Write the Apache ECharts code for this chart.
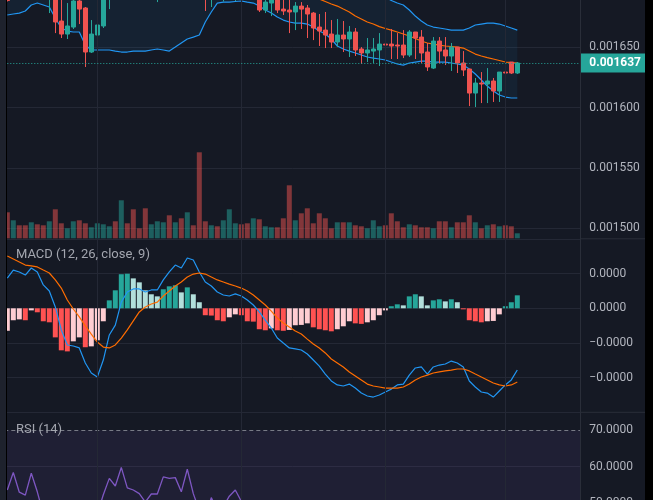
<!DOCTYPE html>
<html>
<head>
<meta charset="utf-8">
<script src="https://cdn.jsdelivr.net/npm/echarts@6/dist/echarts.min.js"></script>
<style>
html,body{margin:0;padding:0;background:#151924;}
#chart{width:653px;height:500px;}
</style>
</head>
<body>
<div id="chart"></div>
<script>
// ---- price candles (one entry per candle) ----
const opens = [0.0016975,0.0016909,0.0016991,0.0016942,0.0016917,0.0017008,0.0016958,0.0016917,0.0016975,0.0016718,
 0.0016610,0.0016668,0.0016884,0.0016826,0.0016461,0.0016602,0.0016677,0.0016933,0.0017041,0.0016991,
 0.0017182,0.0017124,0.0017025,0.0016991,0.0016925,0.0017008,0.0017074,0.0017157,0.0017091,0.0017207,
 0.0017141,0.0017273,0.0017207,0.0017025,0.0016958,0.0017008,0.0016942,0.0016991,0.0017025,0.0017074,
 0.0016991,0.0016925,0.0016958,0.0016809,0.0016867,0.0016909,0.0016817,0.0016809,0.0016793,0.0016842,
 0.0016826,0.0016784,0.0016668,0.0016643,0.0016610,0.0016544,0.0016602,0.0016569,0.0016627,0.0016486,
 0.0016453,0.0016469,0.0016478,0.0016527,0.0016527,0.0016519,0.0016519,0.0016436,0.0016627,0.0016585,
 0.0016461,0.0016328,0.0016552,0.0016478,0.0016428,0.0016502,0.0016370,0.0016320,0.0016121,0.0016204,
 0.0016196,0.0016221,0.0016138,0.0016295,0.0016378,0.0016287];
const closes = [0.0016888,0.0016991,0.0016942,0.0016909,0.0017008,0.0016958,0.0016925,0.0016975,0.0016710,0.0016610,
 0.0016677,0.0016884,0.0016817,0.0016461,0.0016610,0.0016685,0.0016933,0.0017041,0.0016991,0.0017182,
 0.0017124,0.0017025,0.0016991,0.0016925,0.0017008,0.0017074,0.0017157,0.0017091,0.0017207,0.0017141,
 0.0017273,0.0017207,0.0017025,0.0016958,0.0017008,0.0016942,0.0016991,0.0017058,0.0017074,0.0016991,
 0.0016925,0.0016975,0.0016809,0.0016875,0.0016909,0.0016809,0.0016801,0.0016793,0.0016842,0.0016817,
 0.0016776,0.0016660,0.0016635,0.0016602,0.0016544,0.0016602,0.0016569,0.0016627,0.0016478,0.0016453,
 0.0016478,0.0016486,0.0016527,0.0016519,0.0016511,0.0016511,0.0016436,0.0016627,0.0016577,0.0016453,
 0.0016337,0.0016552,0.0016469,0.0016428,0.0016502,0.0016370,0.0016312,0.0016121,0.0016204,0.0016196,
 0.0016221,0.0016138,0.0016295,0.0016287,0.0016287,0.0016370];
const lows = [0.0016880,0.0016900,0.0016917,0.0016896,0.0016900,0.0016925,0.0016900,0.0016784,0.0016618,0.0016577,
 0.0016569,0.0016652,0.0016693,0.0016337,0.0016453,0.0016461,0.0016660,0.0016817,0.0016958,0.0016975,
 0.0017091,0.0016991,0.0016950,0.0016909,0.0016909,0.0016875,0.0017041,0.0017058,0.0017058,0.0017107,
 0.0017107,0.0017157,0.0016975,0.0016801,0.0016834,0.0016909,0.0016880,0.0016958,0.0016884,0.0016925,
 0.0016900,0.0016900,0.0016793,0.0016784,0.0016759,0.0016784,0.0016768,0.0016618,0.0016643,0.0016652,
 0.0016577,0.0016560,0.0016511,0.0016494,0.0016494,0.0016502,0.0016461,0.0016420,0.0016428,0.0016362,
 0.0016378,0.0016370,0.0016345,0.0016345,0.0016403,0.0016403,0.0016411,0.0016420,0.0016403,0.0016370,
 0.0016304,0.0016320,0.0016370,0.0016353,0.0016304,0.0016287,0.0016262,0.0016013,0.0016005,0.0016038,
 0.0016038,0.0016047,0.0016047,0.0016287,0.0016279,0.0016279];
const highs = [0.0017008,0.0017025,0.0017041,0.0016975,0.0017041,0.0017058,0.0016991,0.0017008,0.0017008,0.0016909,
 0.0016867,0.0016917,0.0016909,0.0016834,0.0016726,0.0016859,0.0016958,0.0017074,0.0017091,0.0017224,
 0.0017240,0.0017207,0.0017058,0.0017107,0.0017041,0.0017107,0.0017190,0.0017224,0.0017240,0.0017257,
 0.0017323,0.0017306,0.0017290,0.0017058,0.0017041,0.0017041,0.0017025,0.0017091,0.0017107,0.0017107,
 0.0017025,0.0017008,0.0016991,0.0016900,0.0016925,0.0016933,0.0016900,0.0016909,0.0016875,0.0016875,
 0.0016851,0.0016793,0.0016776,0.0016793,0.0016726,0.0016735,0.0016718,0.0016677,0.0016660,0.0016502,
 0.0016577,0.0016577,0.0016618,0.0016627,0.0016652,0.0016618,0.0016643,0.0016643,0.0016627,0.0016643,
 0.0016536,0.0016585,0.0016585,0.0016585,0.0016536,0.0016502,0.0016469,0.0016320,0.0016246,0.0016295,
 0.0016328,0.0016246,0.0016295,0.0016378,0.0016378,0.0016378];

// ---- Bollinger bands ----
const bbLower = [0.0016768,0.0016776,0.0016784,0.0016801,0.0016851,0.0016867,0.0016851,0.0016834,0.0016743,0.0016660,
 0.0016635,0.0016627,0.0016627,0.0016519,0.0016478,0.0016478,0.0016478,0.0016478,0.0016469,0.0016461,
 0.0016461,0.0016469,0.0016469,0.0016469,0.0016478,0.0016486,0.0016478,0.0016469,0.0016502,0.0016536,
 0.0016569,0.0016585,0.0016602,0.0016710,0.0016793,0.0016867,0.0016875,0.0016875,0.0016880,0.0016884,
 0.0016875,0.0016867,0.0016842,0.0016809,0.0016784,0.0016751,0.0016726,0.0016710,0.0016701,0.0016701,
 0.0016693,0.0016668,0.0016635,0.0016610,0.0016569,0.0016511,0.0016486,0.0016469,0.0016453,0.0016436,
 0.0016420,0.0016411,0.0016403,0.0016395,0.0016378,0.0016362,0.0016353,0.0016370,0.0016378,0.0016386,
 0.0016386,0.0016378,0.0016378,0.0016378,0.0016370,0.0016362,0.0016353,0.0016320,0.0016279,0.0016229,
 0.0016179,0.0016138,0.0016105,0.0016088,0.0016080,0.0016080];
const bbMid = [0.0017124,0.0017124,0.0017116,0.0017116,0.0017107,0.0017107,0.0017099,0.0017099,0.0017091,0.0017074,
 0.0017058,0.0017041,0.0017025,0.0017008,0.0016991,0.0016983,0.0016975,0.0016975,0.0016983,0.0016991,
 0.0017000,0.0017008,0.0017016,0.0017025,0.0017033,0.0017041,0.0017049,0.0017058,0.0017066,0.0017074,
 0.0017083,0.0017091,0.0017099,0.0017099,0.0017099,0.0017099,0.0017099,0.0017099,0.0017091,0.0017091,
 0.0017083,0.0017074,0.0017066,0.0017049,0.0017033,0.0017016,0.0017000,0.0016983,0.0016967,0.0016950,
 0.0016933,0.0016917,0.0016900,0.0016880,0.0016859,0.0016842,0.0016817,0.0016793,0.0016759,0.0016735,
 0.0016710,0.0016693,0.0016672,0.0016656,0.0016643,0.0016627,0.0016610,0.0016594,0.0016573,0.0016552,
 0.0016536,0.0016527,0.0016519,0.0016511,0.0016507,0.0016502,0.0016494,0.0016469,0.0016444,0.0016428,
 0.0016415,0.0016403,0.0016391,0.0016378,0.0016374,0.0016370];
const bbUpper = [0.0017480,0.0017472,0.0017447,0.0017431,0.0017364,0.0017348,0.0017348,0.0017364,0.0017439,0.0017489,
 0.0017480,0.0017456,0.0017422,0.0017497,0.0017505,0.0017489,0.0017472,0.0017472,0.0017497,0.0017522,
 0.0017538,0.0017547,0.0017563,0.0017580,0.0017588,0.0017596,0.0017621,0.0017646,0.0017630,0.0017613,
 0.0017596,0.0017596,0.0017596,0.0017489,0.0017406,0.0017331,0.0017323,0.0017323,0.0017319,0.0017298,
 0.0017306,0.0017298,0.0017290,0.0017290,0.0017282,0.0017282,0.0017273,0.0017257,0.0017232,0.0017199,
 0.0017174,0.0017165,0.0017165,0.0017149,0.0017149,0.0017174,0.0017149,0.0017116,0.0017066,0.0017033,
 0.0017000,0.0016975,0.0016942,0.0016917,0.0016888,0.0016867,0.0016851,0.0016809,0.0016759,0.0016718,
 0.0016685,0.0016668,0.0016660,0.0016652,0.0016643,0.0016643,0.0016643,0.0016660,0.0016685,0.0016693,
 0.0016701,0.0016701,0.0016693,0.0016677,0.0016660,0.0016643];

// ---- volume ----
const volume = [26,18,13,13,16,14,13,17,29,15, 10,17,18,15,11,15,14,12,17,38,
 15,29,10,30,14,17,16,23,16,20, 26,13,86,17,13,12,18,29,15,14,
 15,20,19,12,11,11,20,53,18,25, 30,15,25,20,10,16,16,16,13,12,
 10,18,12,13,25,17,11,14,13,11, 11,10,17,17,11,16,16,23,16,10,
 13,14,12,13,12,5];

// ---- MACD (values in units of 1e-6) ----
const MACD_UNIT = 1e-6;
const macdLine = [1.75,2.21,2.10,1.92,2.33,2.10,1.35,1.00,0.08,-1.25,
 -2.12,-2.18,-2.29,-3.16,-3.74,-3.97,-2.99,-1.54,-0.97,0.36,
 0.94,1.12,1.12,0.94,1.06,1.06,1.64,2.10,2.50,2.33,
 2.91,2.79,2.10,1.52,1.29,0.94,0.77,0.71,0.83,0.71,
 0.48,0.19,-0.21,-0.68,-1.14,-1.72,-2.01,-2.29,-2.35,-2.41,
 -2.64,-2.99,-3.34,-3.80,-4.20,-4.43,-4.49,-4.38,-4.61,-4.90,
 -5.07,-5.13,-5.01,-4.84,-4.67,-4.43,-4.38,-3.86,-3.45,-3.39,
 -3.80,-3.39,-3.28,-3.22,-3.05,-3.16,-3.39,-4.20,-4.55,-4.84,
 -4.90,-5.13,-4.78,-4.43,-4.14,-3.57];
const signalLine = [3.02,2.85,2.68,2.50,2.45,2.39,2.21,2.04,1.64,1.17,
 0.48,-0.04,-0.50,-1.02,-1.49,-1.95,-2.24,-2.29,-2.12,-1.72,
 -1.25,-0.73,-0.21,0.08,0.25,0.36,0.71,1.00,1.29,1.52,
 1.81,1.98,2.04,1.98,1.81,1.64,1.52,1.40,1.29,1.17,
 1.00,0.77,0.48,0.19,-0.16,-0.56,-0.85,-1.08,-1.31,-1.49,
 -1.78,-2.06,-2.29,-2.58,-2.93,-3.16,-3.39,-3.68,-3.91,-4.14,
 -4.38,-4.49,-4.55,-4.61,-4.61,-4.61,-4.55,-4.38,-4.14,-3.97,
 -3.86,-3.74,-3.68,-3.62,-3.57,-3.51,-3.51,-3.62,-3.80,-3.97,
 -4.14,-4.32,-4.43,-4.49,-4.43,-4.26];
const macdHist = [-1.30,-0.69,-0.64,-0.69,-0.12,-0.23,-0.75,-0.81,-1.68,-2.43,
 -2.49,-1.91,-1.68,-2.25,-2.20,-1.85,-0.75,0.46,1.04,1.97,
 2.00,1.73,1.50,1.04,0.81,0.69,1.10,1.27,1.33,0.92,
 1.21,0.81,0.35,-0.40,-0.42,-0.69,-0.75,-0.52,-0.35,-0.40,
 -0.75,-0.77,-1.21,-1.27,-1.16,-1.27,-1.30,-1.25,-0.98,-0.96,
 -0.87,-1.10,-1.21,-1.27,-1.33,-1.21,-1.04,-0.75,-0.87,-0.90,
 -0.81,-0.69,-0.40,-0.12,0.12,0.23,0.17,0.69,0.81,0.69,
 0.17,0.46,0.52,0.40,0.52,0.35,-0.06,-0.69,-0.75,-0.81,
 -0.75,-0.73,-0.35,0.12,0.35,0.75];

// ---- RSI ----
const rsi = [53.6,58.4,53.0,52.2,58.2,53.1,47,48,42,38,
 40,44,42,35,40,47,52.3,56.8,54.7,59.8,
 54.2,53.6,52.6,50.3,52.5,52.5,57.2,56.8,57.0,53.1,
 59.3,52.6,48,46,51.5,48,49,51.9,53.6,50.5,
 45,42,40,41,39,37,36,35,38,37,
 36,34,33,32,34,38,36,39,35,34,
 38,39,42,41,40,40,38,47,45,42,
 37,46,43,41,44,40,37,30,35,34,
 37,35,42,41,43,48];

const vGridIdx = ['15','39','63','83'];
const SLOTS = 96;

// ---------------------------------------------------------------
const cats = Array.from({length: SLOTS}, (_, i) => String(i));
const UP = '#26a69a', DN = '#ef5350';
const GRID = '#242835';
const LABEL = '#b2b5be';
const FONT = 'Roboto, sans-serif';

const candleData = opens.map((o, i) => [o, closes[i], lows[i], highs[i]]);
const volData = volume.map((v, i) => ({
  value: v,
  itemStyle: {color: closes[i] >= opens[i] ? 'rgba(38,166,154,0.5)' : 'rgba(239,83,80,0.5)'}
}));
const histData = macdHist.map((v, i) => {
  const prev = i > 0 ? macdHist[i - 1] : v;
  let c;
  if (v >= 0) c = v >= prev ? '#26a69a' : '#b2dfdb';
  else c = v < prev ? '#ff5252' : '#ffcdd2';
  return {value: v, itemStyle: {color: c}};
});
const bandDiff = bbUpper.map((u, i) => u - bbLower[i]);
const lastClose = closes[closes.length - 1];

const vLines = vGridIdx.map(k => ({xAxis: k}));
const vMark = {
  silent: true, symbol: ['none', 'none'], label: {show: false},
  lineStyle: {color: GRID, type: 'solid', width: 1}, data: vLines, animation: false
};

const G = {left: 4.3, width: 576, outerBoundsMode: 'none', containLabel: false};
const chart = echarts.init(document.getElementById('chart'), null, {renderer: 'canvas'});
chart.setOption({
  animation: false,
  backgroundColor: '#151924',
  textStyle: {fontFamily: FONT},
  grid: [
    Object.assign({top: -13, height: 241.3}, G),
    Object.assign({top: 0, height: 238.3}, G),
    Object.assign({top: 239.1, height: 173}, G),
    Object.assign({top: 412, height: 273.1}, G)
  ],
  xAxis: [0, 1, 2, 3].map(k => ({
    type: 'category', gridIndex: k, data: cats, boundaryGap: true, show: false
  })),
  yAxis: [
    {type: 'value', gridIndex: 0, position: 'right', min: 0.0015, max: 0.0017, interval: 0.00005,
     axisLine: {show: false}, axisTick: {show: false},
     splitLine: {show: true, lineStyle: {color: GRID, width: 1}},
     axisLabel: {color: LABEL, fontSize: 12, fontFamily: FONT, margin: 9, formatter: v => v.toFixed(6)}},
    {type: 'value', gridIndex: 1, min: 0, max: 238.3, show: false, splitLine: {show: false}},
    {type: 'value', gridIndex: 2, position: 'right', min: -6, max: 4, interval: 2,
     axisLine: {show: false}, axisTick: {show: false},
     splitLine: {show: true, lineStyle: {color: GRID, width: 1}},
     axisLabel: {color: LABEL, fontSize: 12, fontFamily: FONT, margin: 9, showMinLabel: false, showMaxLabel: false,
       formatter: v => (v * MACD_UNIT).toFixed(4).replace('-', '\u2212')}},
    {type: 'value', gridIndex: 3, position: 'right', min: 0, max: 75.03, interval: 10,
     axisLine: {show: false}, axisTick: {show: false},
     splitLine: {show: true, lineStyle: {color: [GRID, GRID, GRID, GRID, GRID, GRID, GRID, 'rgba(0,0,0,0)', GRID], width: 1}},
     axisLabel: {color: LABEL, fontSize: 12, fontFamily: FONT, margin: 9, showMaxLabel: false,
       formatter: v => v.toFixed(4)}}
  ],
  series: [
    // volume (overlay in price pane) + vertical grid for the price pane
    {type: 'bar', xAxisIndex: 1, yAxisIndex: 1, data: volData, barWidth: 5, z: 1, markLine: vMark},
    // Bollinger band fill
    {type: 'line', xAxisIndex: 0, yAxisIndex: 0, data: bbLower, stack: 'bb', symbol: 'none',
     lineStyle: {width: 0, opacity: 0}, z: 2},
    {type: 'line', xAxisIndex: 0, yAxisIndex: 0, data: bandDiff, stack: 'bb', symbol: 'none',
     lineStyle: {width: 0, opacity: 0}, areaStyle: {color: 'rgba(33,150,243,0.07)', opacity: 1}, z: 2},
    {type: 'line', xAxisIndex: 0, yAxisIndex: 0, data: bbLower, symbol: 'none',
     lineStyle: {color: '#2196f3', width: 1.2}, z: 3},
    {type: 'line', xAxisIndex: 0, yAxisIndex: 0, data: bbUpper, symbol: 'none',
     lineStyle: {color: '#2196f3', width: 1.2}, z: 3},
    {type: 'line', xAxisIndex: 0, yAxisIndex: 0, data: bbMid, symbol: 'none',
     lineStyle: {color: '#ff6d00', width: 1.2}, z: 3},
    // candles + last-price line
    {type: 'candlestick', xAxisIndex: 0, yAxisIndex: 0, data: candleData, barWidth: 4, z: 4,
     itemStyle: {color: UP, color0: DN, borderColor: UP, borderColor0: DN, borderWidth: 1},
     markLine: {
       silent: true, symbol: ['none', 'none'], animation: false, precision: 10,
       lineStyle: {color: UP, type: [1, 2], width: 1},
       label: {show: true, position: 'end', distance: 0, formatter: lastClose.toFixed(6),
         backgroundColor: UP, color: '#ffffff', fontWeight: 'bold', fontSize: 12, fontFamily: FONT,
         padding: [3, 9, 2, 9], lineHeight: 14},
       data: [{yAxis: lastClose}]
     }},
    // MACD
    {type: 'bar', xAxisIndex: 2, yAxisIndex: 2, data: histData, barWidth: 5, z: 2, markLine: vMark},
    {type: 'line', xAxisIndex: 2, yAxisIndex: 2, data: macdLine, symbol: 'none',
     lineStyle: {color: '#2196f3', width: 1.2}, z: 3},
    {type: 'line', xAxisIndex: 2, yAxisIndex: 2, data: signalLine, symbol: 'none',
     lineStyle: {color: '#ff6d00', width: 1.2}, z: 3},
    // RSI
    {type: 'line', xAxisIndex: 3, yAxisIndex: 3, data: rsi, symbol: 'none',
     lineStyle: {color: '#7e57c2', width: 1.3}, z: 3,
     markArea: {silent: true, itemStyle: {color: 'rgba(126,87,194,0.1)'}, data: [[{yAxis: 30}, {yAxis: 70}]]},
     markLine: {
       silent: true, symbol: ['none', 'none'], label: {show: false}, animation: false,
       lineStyle: {color: '#787b86', type: [4, 3], width: 1},
       data: [{yAxis: 70}, {yAxis: 50}, {yAxis: 30}].concat(
         vLines.map(d => Object.assign({lineStyle: {color: GRID, type: 'solid', width: 1}}, d)))
     }}
  ],
  graphic: [
    {type: 'rect', z: 100, shape: {x: 0, y: 0, width: 6, height: 500}, style: {fill: '#1e222d'}},
    {type: 'line', z: 100, shape: {x1: 6.5, y1: 0, x2: 6.5, y2: 500}, style: {stroke: '#000000', lineWidth: 1}},
    {type: 'line', z: 100, shape: {x1: 580.5, y1: 0, x2: 580.5, y2: 500}, style: {stroke: '#2a2e39', lineWidth: 1}},
    {type: 'line', z: 100, shape: {x1: 580.5, y1: 238.8, x2: 645, y2: 238.8}, style: {stroke: '#2a2e39', lineWidth: 1}},
    {type: 'line', z: 100, shape: {x1: 580.5, y1: 412.3, x2: 645, y2: 412.3}, style: {stroke: '#2a2e39', lineWidth: 1}},
    {type: 'rect', z: 100, shape: {x: 645, y: 0, width: 8, height: 500}, style: {fill: '#000000'}},
    {type: 'text', z: 100, left: 16, top: 248, style: {text: 'MACD (12, 26, close, 9)', fill: '#a3a6af', font: '13px ' + FONT}},
    {type: 'text', z: 100, left: 16, top: 423, style: {text: 'RSI (14)', fill: '#a3a6af', font: '13px ' + FONT}}
  ]
});
</script>
</body>
</html>
